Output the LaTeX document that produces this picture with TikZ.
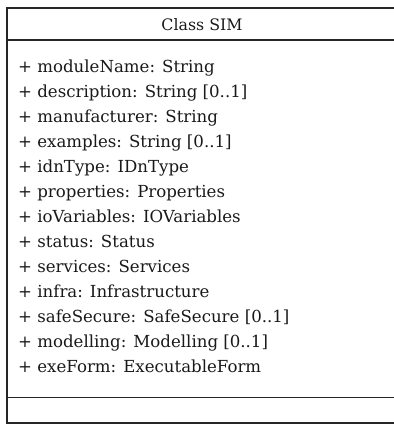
\documentclass[tikz,border=0pt]{standalone}
\usepackage{fontspec}
\setmainfont{DejaVu Serif}
\begin{document}
\begin{tikzpicture}[x=1pt,y=-1pt,
  frame/.style={draw=black!85, line width=1.7pt},
  title/.style={anchor=base, inner sep=0pt, font=\fontsize{15.8}{18}\selectfont, text=black!90},
  attr/.style={anchor=base west, inner sep=0pt, font=\fontsize{16.6}{19}\selectfont, text=black!90}]
  \useasboundingbox (0,0) rectangle (394,424);
  % class box: outer frame and compartment separators
  \draw[frame] (7,8) rectangle (402,423);
  \draw[frame] (7,40) -- (402,40);
  \draw[frame] (7,397.5) -- (402,397.5);
  % class name
  \node[title] (name) at (202,30.7) {Class SIM};
  % attributes
  \foreach \t [count=\i] in {
    {+ moduleName: String},
    {+ description: String [0..1]},
    {+ manufacturer: String},
    {+ examples: String [0..1]},
    {+ idnType: IDnType},
    {+ properties: Properties},
    {+ ioVariables: IOVariables},
    {+ status: Status},
    {+ services: Services},
    {+ infra: Infrastructure},
    {+ safeSecure: SafeSecure [0..1]},
    {+ modelling: Modelling [0..1]},
    {+ exeForm: ExecutableForm}}
    \node[attr] (attr\i) at (18,{72.5+25*(\i-1)}) {\t};
\end{tikzpicture}
\end{document}
